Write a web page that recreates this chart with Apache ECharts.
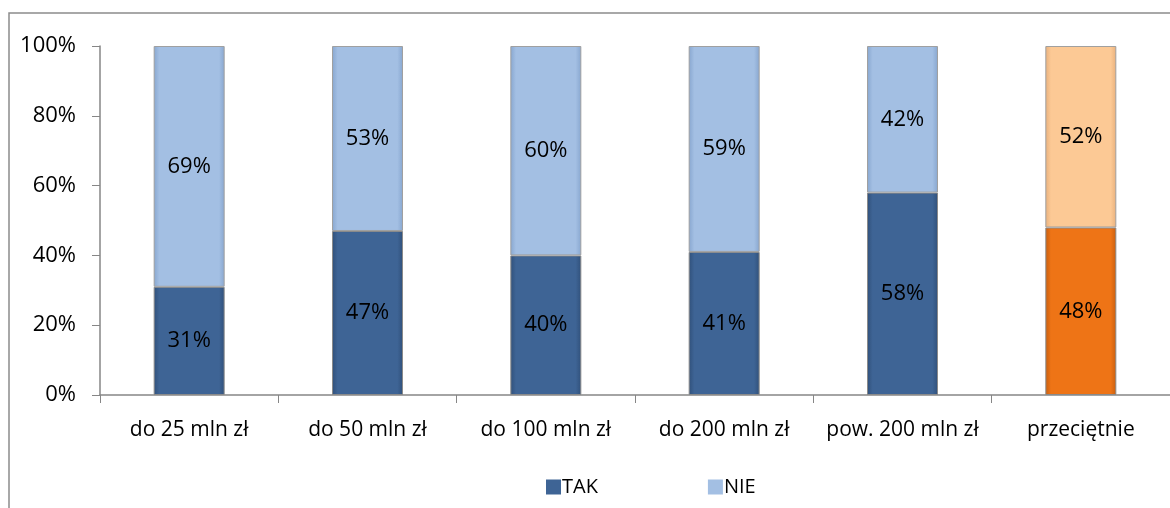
<!DOCTYPE html>
<html><head><meta charset="utf-8">
<script src="https://cdn.jsdelivr.net/npm/echarts@6/dist/echarts.min.js"></script>
<style>html,body{margin:0;padding:0;background:#fff}#c{width:1170px;height:508px}</style>
</head><body><div id="c"></div>
<script>
const categories = ['do 25 mln zł','do 50 mln zł','do 100 mln zł','do 200 mln zł','pow. 200 mln zł','przeciętnie'];
const tak = [31,47,40,41,58,48];
const nie = [69,53,60,59,42,52];
const yTicks = [0,20,40,60,80,100];

const takColor = '#3E6495', nieColor = '#A3BFE3';
const takAvg = '#EE7416', nieAvg = '#FCC995';
function grad(c1,c2){return {type:'linear',x:0,y:0,x2:1,y2:0,colorStops:[{offset:0,color:c2},{offset:0.08,color:c1},{offset:0.92,color:c1},{offset:1,color:c2}]};}
const chart = echarts.init(document.getElementById('c'));
const font = 'Open Sans, Lato, sans-serif';
chart.setOption({
  animation:false,
  graphic:[{type:'rect',shape:{x:9,y:13,width:1300,height:600},style:{fill:'none',stroke:'#8c8c8c',lineWidth:1.5},silent:true}],
  grid:{left:100,top:46,width:1075,height:349},
  legend:{top:472,left:541,itemGap:110,itemWidth:15,itemHeight:15,icon:'rect',
    textStyle:{fontSize:20,color:'#000',fontFamily:font,padding:[0,0,0,-4]},
    data:[{name:'TAK',itemStyle:{color:takColor}},{name:'NIE',itemStyle:{color:nieColor}}]},
  xAxis:{type:'category',data:categories,
    axisLine:{lineStyle:{color:'#868686',width:1.5}},
    axisTick:{show:true,interval:0,length:8,lineStyle:{color:'#868686'}},
    axisLabel:{interval:0,fontSize:21,color:'#000',fontFamily:font,margin:25}},
  yAxis:{type:'value',min:0,max:100,interval:20,
    axisLine:{show:true,lineStyle:{color:'#868686',width:1.5}},
    axisTick:{show:true,length:8,lineStyle:{color:'#868686'}},
    splitLine:{show:false},
    axisLabel:{fontSize:22,color:'#000',fontFamily:font,margin:24,formatter:v=>yTicks.includes(v)?v+'%':''}},
  series:[
    {name:'TAK',type:'bar',stack:'s',barWidth:71,
     data:tak.map((v,i)=>({value:v,itemStyle:{color:i===5?grad(takAvg,'#c85f10'):grad(takColor,'#30507a'),borderColor:'#8a8a8a',borderWidth:1}})),
     label:{show:true,position:'inside',formatter:'{c}%',fontSize:22,color:'#000',fontFamily:font}},
    {name:'NIE',type:'bar',stack:'s',barWidth:71,
     data:nie.map((v,i)=>({value:v,itemStyle:{color:i===5?grad(nieAvg,'#e8b07c'):grad(nieColor,'#87a6cf'),borderColor:'#a0a0a0',borderWidth:1}})),
     label:{show:true,position:'inside',formatter:'{c}%',fontSize:22,color:'#000',fontFamily:font}}
  ]
});
</script></body></html>
